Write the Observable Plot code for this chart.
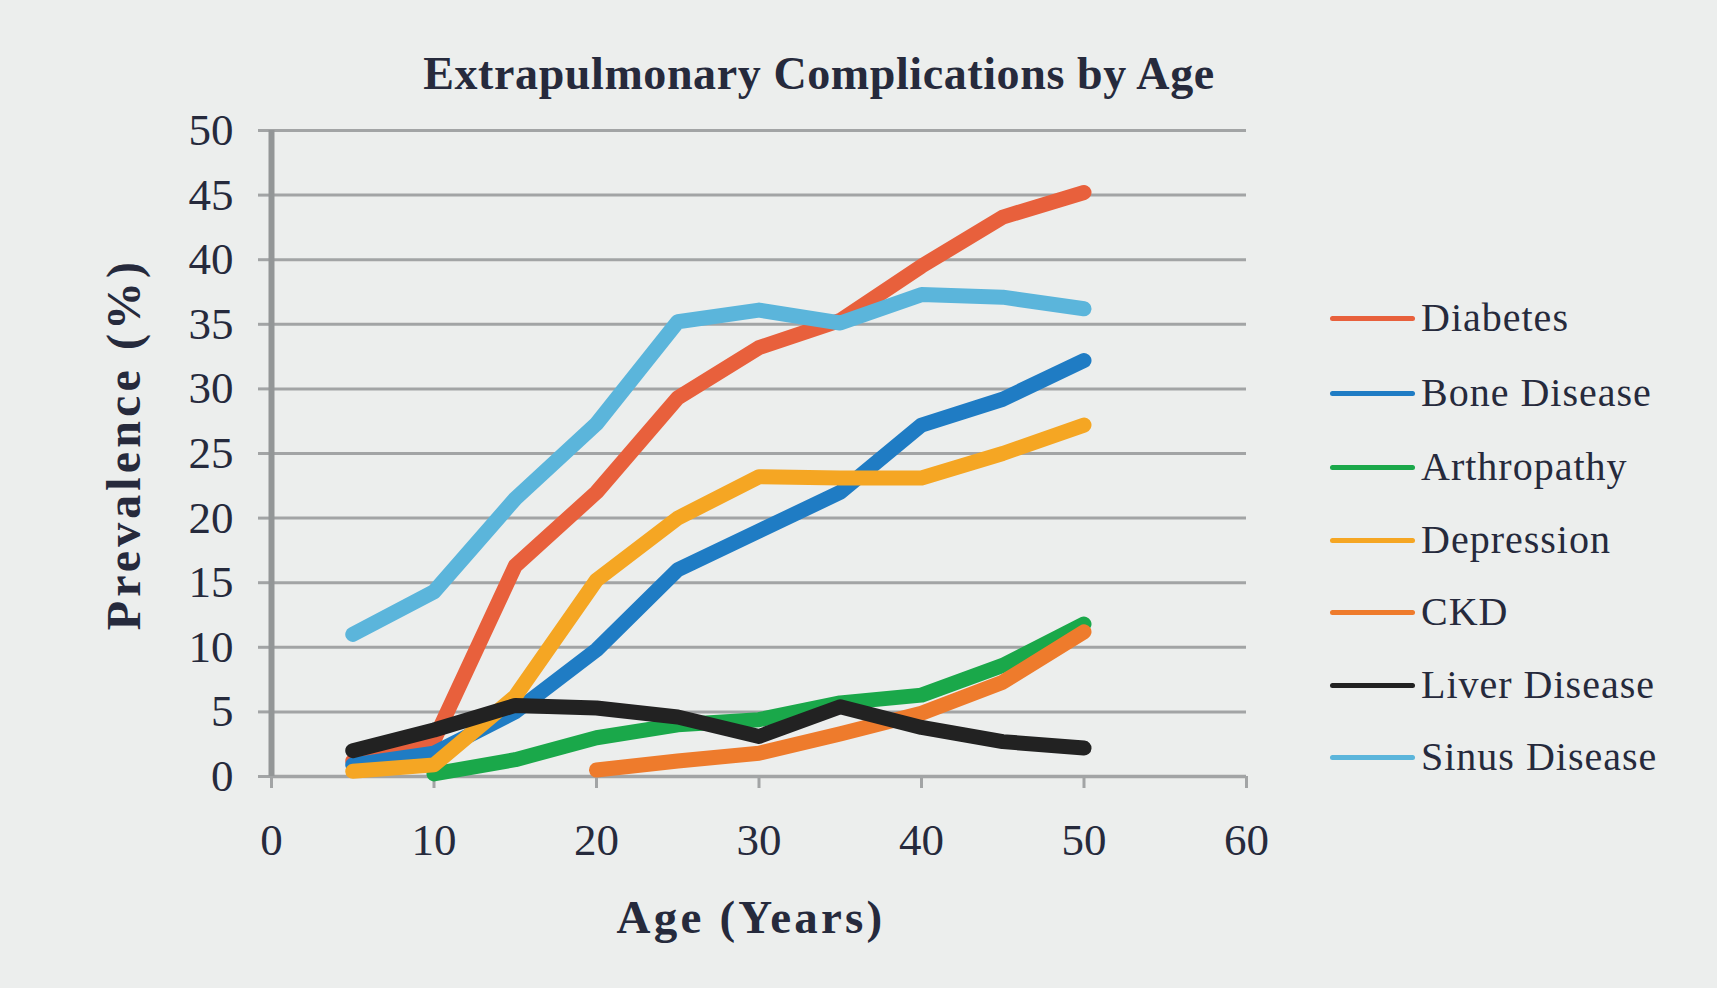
<!DOCTYPE html>
<html>
<head>
<meta charset="utf-8">
<script src="https://cdn.jsdelivr.net/npm/d3@7"></script>
<script src="https://cdn.jsdelivr.net/npm/@observablehq/plot@0.6"></script>
<style>
  html, body { margin: 0; padding: 0; background: #eceeed; }
  #wrap { position: relative; width: 1717px; height: 988px; background: #eceeed; overflow: hidden;
          font-family: "Liberation Serif", "DejaVu Serif", serif; color: #262a3c; }
  #wrap svg { position: absolute; left: 0; top: 0; }
  .lbl { position: absolute; white-space: nowrap; line-height: 1; transform: translate(-50%, -50%); }
  .title { font-weight: bold; font-size: 46px; letter-spacing: 0.6px; }
  .ytitle { font-weight: bold; font-size: 48px; letter-spacing: 4.1px; transform: translate(-50%, -50%) rotate(-90deg); }
  .xtitle { font-weight: bold; font-size: 47px; letter-spacing: 3.2px; }
  .leg { position: absolute; left: 1330px; display: flex; align-items: center; transform: translateY(-50%); line-height: 1; }
  .leg .sw { width: 85px; height: 5px; border-radius: 3px; margin-right: 6px; }
  .leg .tx { font-size: 40px; letter-spacing: 1px; white-space: nowrap; }
</style>
</head>
<body>
<div id="wrap"></div>
<script>
// ---- data ----
const ages = [5, 10, 15, 20, 25, 30, 35, 40, 45, 50];
const seriesNames = ["Diabetes", "Bone Disease", "Arthropathy", "Depression", "CKD", "Liver Disease", "Sinus Disease"];
const seriesColors = ["#e8603c", "#1f7cc4", "#1aa84a", "#f5a623", "#ee7b2c", "#222222", "#5bb5db"];
const diabetes     = [1.2, 2.8, 16.3, 22.0, 29.3, 33.2, 35.3, 39.5, 43.3, 45.2];
const boneDisease  = [0.9, 1.8, 5.0, 9.8, 16.0, 19.0, 22.0, 27.2, 29.2, 32.2];
const arthropathy  = [null, 0.2, 1.3, 3.0, 4.0, 4.4, 5.7, 6.3, 8.6, 11.8];
const depression   = [0.4, 0.9, 6.2, 15.2, 20.0, 23.2, 23.1, 23.1, 25.0, 27.2];
const ckd          = [null, null, null, 0.5, 1.2, 1.8, 3.3, 4.9, 7.3, 11.2];
const liverDisease = [2.0, 3.6, 5.5, 5.3, 4.6, 3.1, 5.4, 3.8, 2.7, 2.2];
const sinusDisease = [11.0, 14.3, 21.5, 27.3, 35.2, 36.1, 35.1, 37.3, 37.1, 36.2];
const xTicks = [0, 10, 20, 30, 40, 50, 60];
const yTicks = [0, 5, 10, 15, 20, 25, 30, 35, 40, 45, 50];
const titleText = "Extrapulmonary Complications by Age";
const xTitle = "Age (Years)";
const yTitle = "Prevalence (%)";

const seriesValues = [diabetes, boneDisease, arthropathy, depression, ckd, liverDisease, sinusDisease];
const rows = [];
seriesNames.forEach((name, i) => {
  seriesValues[i].forEach((v, j) => {
    if (v != null) rows.push({series: name, age: ages[j], value: v});
  });
});

const W = 1717, H = 988;
const chart = Plot.plot({
  width: W, height: H,
  marginLeft: 271, marginRight: W - 1246, marginTop: 130, marginBottom: H - 776,
  style: {background: "transparent", fontFamily: "Liberation Serif, serif", overflow: "visible"},
  x: {domain: [0, 60]},
  y: {domain: [0, 50]},
  color: {domain: seriesNames, range: seriesColors},
  marks: [
    Plot.gridY(yTicks, {stroke: "#a2a4a5", strokeOpacity: 1, strokeWidth: 3}),
    Plot.axisY(yTicks, {tickSize: 13, tickPadding: 25, fontSize: 45, stroke: "#a2a4a5", strokeWidth: 3,
                        fill: "#262a3c", label: null, tickFormat: d => String(d)}),
    Plot.axisX(xTicks, {tickSize: 12, tickPadding: 35, fontSize: 45, stroke: "#a2a4a5", strokeWidth: 3,
                        fill: "#262a3c", label: null, tickFormat: d => String(d)}),
    Plot.ruleY([0], {stroke: "#a2a4a5", strokeWidth: 3.5}),
    Plot.ruleX([0], {y1: 0, y2: 50, stroke: "#939697", strokeWidth: 6}),
    Plot.line(rows, {x: "age", y: "value", z: "series", stroke: "series",
                     strokeWidth: 15, strokeLinecap: "round", strokeLinejoin: "round"})
  ]
});

const wrap = document.getElementById("wrap");
wrap.appendChild(chart);

function addLabel(text, cls, x, y) {
  const d = document.createElement("div");
  d.className = "lbl " + cls;
  d.textContent = text;
  d.style.left = x + "px";
  d.style.top = y + "px";
  wrap.appendChild(d);
}
addLabel(titleText, "title", 819, 74);
addLabel(yTitle, "ytitle", 124, 444);
addLabel(xTitle, "xtitle", 751, 917);

const legendY = [318, 393, 467, 540, 612, 685, 757];
seriesNames.forEach((name, i) => {
  const row = document.createElement("div");
  row.className = "leg";
  row.style.top = legendY[i] + "px";
  const sw = document.createElement("div");
  sw.className = "sw";
  sw.style.background = seriesColors[i];
  const tx = document.createElement("div");
  tx.className = "tx";
  tx.textContent = name;
  row.appendChild(sw);
  row.appendChild(tx);
  wrap.appendChild(row);
});
</script>
</body>
</html>
